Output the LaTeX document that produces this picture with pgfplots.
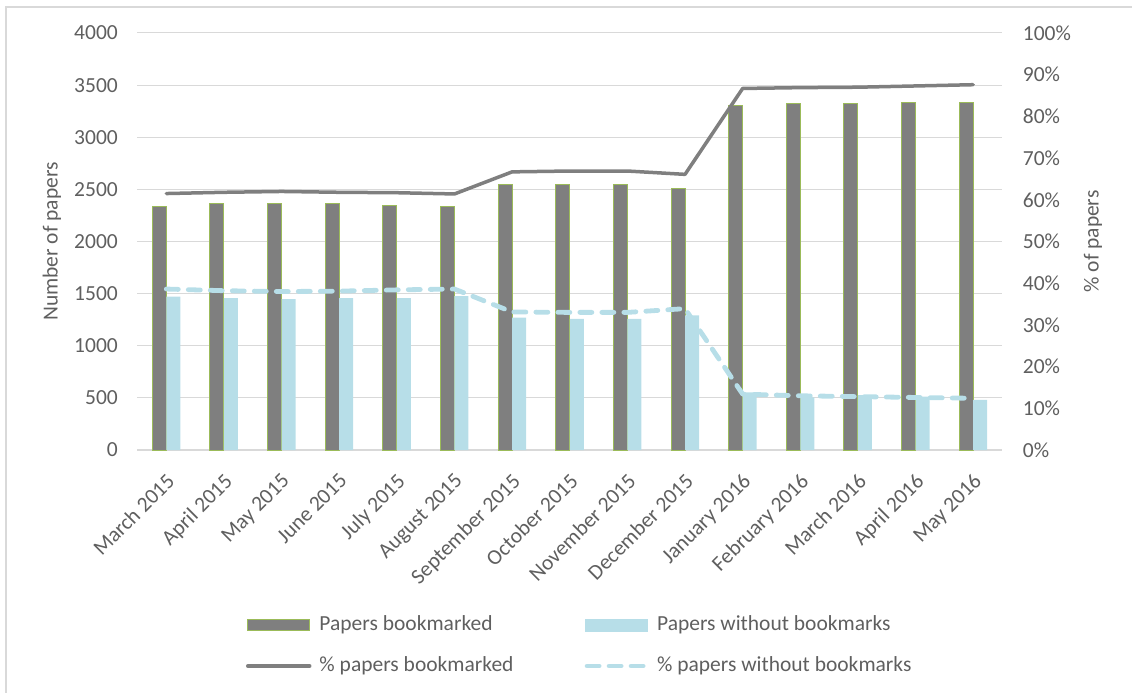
\documentclass[border=0pt]{standalone}
\usepackage{pgfplots}
\usepackage{pgfplotstable}
\pgfplotsset{compat=1.18}
\usepackage{fontspec}
\setmainfont{Carlito}

\definecolor{barDark}{HTML}{7F7F7F}
\definecolor{barEdge}{HTML}{9BBB59}
\definecolor{barLight}{HTML}{B7DEE8}
\definecolor{lineDark}{HTML}{7F7F7F}
\definecolor{gridGray}{HTML}{D9D9D9}
\definecolor{txtGray}{HTML}{5F5F5F}
\newcommand\chartfont{\fontsize{21.5bp}{26bp}\selectfont}

% month index, number of papers, share of papers (%)
\pgfplotstableread{
idx count pct
0  2334 61.5
1  2360 61.8
2  2360 62.0
3  2360 61.8
4  2347 61.7
5  2334 61.4
6  2545 66.7
7  2545 66.9
8  2545 66.9
9  2513 66.1
10 3309 86.7
11 3319 86.9
12 3319 87.0
13 3331 87.3
14 3331 87.6
}\bookmarked

\pgfplotstableread{
idx count pct
0  1471 38.6
1  1458 38.2
2  1448 38.0
3  1458 38.1
4  1458 38.4
5  1477 38.6
6  1269 33.1
7  1257 33.0
8  1257 33.0
9  1292 33.9
10 553  13.4
11 505  13.0
12 527  12.8
13 512  12.6
14 480  12.4
}\unbookmarked

\begin{document}
\begin{tikzpicture}
\useasboundingbox (-137.5bp,-243bp) rectangle (994.5bp,450bp);
\draw[gridGray, line width=2bp] (-131.5bp,-243bp) -- (-131.5bp,443bp) -- (994.5bp,443bp);

% counts on the left axis
\begin{axis}[
  scale only axis, width=864.5bp, height=417bp,
  at={(0,0)}, anchor=south west,
  xmin=-0.5, xmax=14.5, ymin=0, ymax=4000,
  xtick={0,...,14},
  xticklabels={March 2015, April 2015, May 2015, June 2015, July 2015, August 2015,
    September 2015, October 2015, November 2015, December 2015, January 2016,
    February 2016, March 2016, April 2016, May 2016},
  ytick={0,500,...,4000},
  axis x line*=bottom, axis y line*=left,
  x axis line style={draw=gridGray, line width=1.3bp},
  y axis line style={draw=none},
  major tick length=0pt,
  ymajorgrids, grid style={draw=gridGray, line width=1bp},
  tick label style={font=\chartfont, text=txtGray},
  /pgf/number format/1000 sep={},
  /pgf/number format/assume math mode=true,
  yticklabel style={anchor=east, inner sep=0pt, xshift=-19.5bp},
  xticklabel style={inner sep=0pt, xshift=-1bp, yshift=-22bp, rotate=45, anchor=north east},
  ylabel={Number of papers},
  ylabel style={at={(axis description cs:-0.0989,0.5)}, anchor=center, font=\chartfont, text=txtGray},
  ybar=0pt, bar width=14bp,
]
\addplot[fill=barDark, draw=barEdge, line width=1bp] table[x=idx, y=count] {\bookmarked};
\addplot[fill=barLight, draw=none] table[x=idx, y=count] {\unbookmarked};
\end{axis}

% shares on the right axis
\begin{axis}[
  scale only axis, width=864.5bp, height=417bp,
  at={(0,0)}, anchor=south west,
  xmin=-0.5, xmax=14.5, ymin=0, ymax=100,
  axis x line=none, axis y line*=right,
  y axis line style={draw=none},
  major tick length=0pt,
  ytick={0,10,...,100},
  yticklabel={\pgfmathprintnumber{\tick}\%},
  /pgf/number format/assume math mode=true,
  tick label style={font=\chartfont, text=txtGray},
  yticklabel style={anchor=west, inner sep=0pt, xshift=20.7bp},
  ylabel={\% of papers},
  ylabel style={at={(axis description cs:1.1053,0.5)}, anchor=center, font=\chartfont, text=txtGray},
  legend columns=2,
  legend cell align=left,
  legend style={at={(0.1255,-0.3957)}, anchor=north west, draw=none, fill=none,
    inner sep=0pt, outer sep=0pt, font=\chartfont, text=txtGray,
    column sep=8bp, row sep=21bp,
    /tikz/every even column/.append style={column sep=71bp},
    nodes={inner sep=0pt, text height=15.5bp, text depth=4.5bp}},
]
\addlegendimage{legend image code/.code={
  \draw[fill=barDark, draw=barEdge, line width=1bp] (0bp,-5.7bp) rectangle (62bp,5.7bp);}}
\addlegendentry{Papers bookmarked}
\addlegendimage{legend image code/.code={
  \fill[barLight] (0bp,-5.7bp) rectangle (62bp,5.7bp);}}
\addlegendentry{Papers without bookmarks}
\addplot[draw=barLight, line width=4.8bp, line cap=round, line join=round,
  dash pattern=on 12bp off 10bp, mark=none, forget plot]
  table[x=idx, y=pct] {\unbookmarked};
\addplot[draw=lineDark, line width=3.5bp, line cap=round, line join=round, mark=none,
  legend image code/.code={\draw (0bp,0bp) -- (62bp,0bp);}]
  table[x=idx, y=pct] {\bookmarked};
\addlegendentry{\% papers bookmarked}
\addlegendimage{draw=barLight, line width=4.8bp, line cap=round,
  dash pattern=on 12bp off 10bp,
  legend image code/.code={\draw (2.4bp,0bp) -- (62bp,0bp);}}
\addlegendentry{\% papers without bookmarks}
\end{axis}
\end{tikzpicture}
\end{document}
